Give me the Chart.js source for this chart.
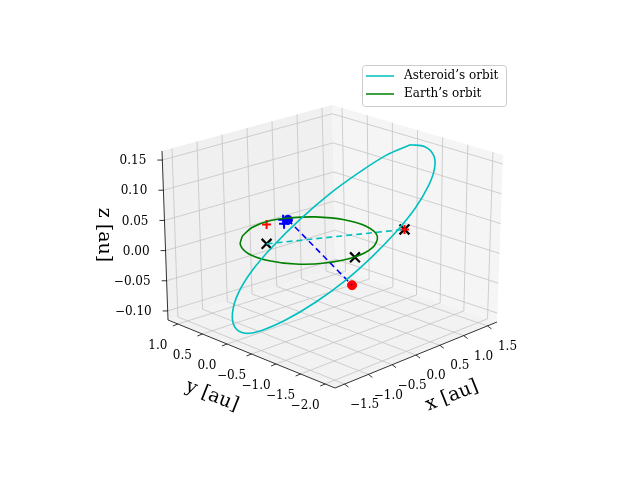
<!DOCTYPE html><html><head><script src="https://cdn.jsdelivr.net/npm/chart.js@4"></script>
<style>body{margin:0;background:#fff}</style></head><body><canvas id="c" width="640" height="480"></canvas>
<script>
// projected picture coordinates (px)
const asteroidOrbit=[[413,141],[428,143],[437,152],[438,165],[432,183],[418,207],[398,232],[373,258],[345,283],[315,305],[285,323],[260,334],[243,337],[232,330],[230,315],[236,295],[250,272],[272,246],[300,218],[330,192],[360,170],[388,152],[413,141]];
const earthOrbit=[[240,236],[250,227],[268,220],[290,217],[315,216],[345,219],[368,226],[379,236],[374,248],[355,258],[325,264],[295,265],[265,261],[246,254],[238,245],[240,236]];
const blueLine=[[287,219],[353,287]];
const cyanLine=[[265,244],[407,229]];
const crosses=[[265,244],[407,229],[356,258]];
const redPlus=[[265,224],[407,229]], bluePlus=[[283,223],[282,219]];
const blueDot=[[287,219]], redDot=[[353,287]];
const xTicks=['−1.5','−1.0','−0.5','0.0','0.5','1.0','1.5'];
const xTickVals=[-1.5,-1,-0.5,0,0.5,1,1.5];
const yTicks=['1.0','0.5','0.0','−0.5','−1.0','−1.5','−2.0'];
const yTickVals=[1,0.5,0,-0.5,-1,-1.5,-2];
const zTicks=['0.15','0.10','0.05','0.00','−0.05','−0.10'];
const zTickVals=[0.15,0.1,0.05,0,-0.05,-0.1];
const P=a=>a.map(p=>({x:p[0],y:p[1]}));
const L=[168,320],F=[335,388],R=[497,322],B=[336,268],TL=[162,151],TB=[332,105],TR=[503,155];
const lerp=(a,b,t)=>[a[0]+(b[0]-a[0])*t,a[1]+(b[1]-a[1])*t];
const fx=v=>(v+1.7)/3.4, fy=v=>(1.2-v)/3.4, fz=v=>(v+0.115)/0.28;
const box={id:'box',beforeDatasetsDraw(ch){const c=ch.ctx;c.save();
 const poly=(pts,col)=>{c.beginPath();pts.forEach((p,i)=>i?c.lineTo(p[0],p[1]):c.moveTo(p[0],p[1]));c.closePath();c.fillStyle=col;c.fill();};
 poly([TL,TB,B,L],'#f0f0f0');poly([TB,TR,R,B],'#f5f5f5');poly([L,B,R,F],'#f2f2f2');
 const ln=(a,b,col,w)=>{c.beginPath();c.moveTo(a[0],a[1]);c.lineTo(b[0],b[1]);c.strokeStyle=col;c.lineWidth=w||0.8;c.stroke();};
 const g='#c4c4c4';
 xTickVals.forEach(v=>{const t=fx(v);ln(lerp(F,R,t),lerp(L,B,t),g);ln(lerp(L,B,t),lerp(TL,TB,t),g);});
 yTickVals.forEach(v=>{const t=fy(v);ln(lerp(L,F,t),lerp(B,R,t),g);ln(lerp(B,R,t),lerp(TB,TR,t),g);});
 zTickVals.forEach(v=>{const t=fz(v);const a=lerp(L,TL,t),b=lerp(B,TB,t),d=lerp(R,TR,t);ln(a,b,g);ln(b,d,g);});
 ln(L,F,'#000');ln(F,R,'#000');ln(L,TL,'#000');
 c.fillStyle='#000';c.font='12px "DejaVu Serif"';c.textAlign='center';c.textBaseline='middle';
 xTickVals.forEach((v,i)=>{const p=lerp(F,R,fx(v));ln(p,[p[0]+4,p[1]+3],'#000');c.fillText(xTicks[i],p[0]+20,p[1]+21);});
 yTickVals.forEach((v,i)=>{const p=lerp(L,F,fy(v));ln(p,[p[0]-5,p[1]+2],'#000');c.fillText(yTicks[i],p[0]-20,p[1]+22);});
 c.textAlign='right';
 zTickVals.forEach((v,i)=>{const p=lerp(L,TL,fz(v));ln(p,[p[0]-5,p[1]],'#000');c.fillText(zTicks[i],p[0]-16,p[1]+1);});
 c.font='19px "DejaVu Serif"';c.textAlign='center';
 c.save();c.translate(452,396);c.rotate(-0.38);c.fillText('x [au]',0,0);c.restore();
 c.save();c.translate(212,396);c.rotate(0.38);c.fillText('y [au]',0,0);c.restore();
 c.save();c.translate(104,235);c.rotate(Math.PI/2);c.fillText('z [au]',0,0);c.restore();
 c.restore();},
 afterDraw(ch){const c=ch.ctx;c.save();c.fillStyle='rgba(255,255,255,0.85)';c.strokeStyle='#ccc';c.lineWidth=1;
 c.beginPath();c.roundRect(362.5,65.5,144,41,3);c.fill();c.stroke();
 c.lineWidth=1.5;c.strokeStyle='#00bfbf';c.beginPath();c.moveTo(366,76);c.lineTo(394,76);c.stroke();
 c.strokeStyle='#008000';c.beginPath();c.moveTo(366,94);c.lineTo(394,94);c.stroke();
 c.fillStyle='#000';c.font='12px "DejaVu Serif"';c.textBaseline='middle';
 c.fillText('Asteroid’s orbit',404,76);c.fillText('Earth’s orbit',404,94);c.restore();}};
const line=(d,col,dash,w)=>({type:'line',data:P(d),borderColor:col,borderWidth:w||1.6,borderDash:dash||[],pointRadius:0,tension:0.35,fill:false});
new Chart(document.getElementById('c'),{type:'scatter',plugins:[box],
 data:{datasets:[
  line(asteroidOrbit,'#00bfbf'),line(earthOrbit,'#008000'),
  {...line(blueLine,'#0000ff',[6,4]),tension:0},{...line(cyanLine,'#00bfbf',[6,4]),tension:0},
  {data:P(redPlus),pointStyle:'cross',pointRadius:4.5,borderColor:'#f00',borderWidth:2},
  {data:P(bluePlus),pointStyle:'cross',pointRadius:5,borderColor:'#00f',borderWidth:2},
  {data:P(crosses),pointStyle:'crossRot',pointRadius:7,borderColor:'#000',borderWidth:2.2},
  {data:P(blueDot),pointRadius:4.5,backgroundColor:'#00f',borderColor:'#00f'},
  {data:P(redDot),pointRadius:4.5,backgroundColor:'#f00',borderColor:'#f00'}]},
 options:{responsive:false,animation:false,layout:{padding:0},plugins:{legend:{display:false},tooltip:{enabled:false}},
  scales:{x:{type:'linear',min:0,max:640,display:false},y:{type:'linear',min:0,max:480,reverse:true,display:false}}}});
</script></body></html>
